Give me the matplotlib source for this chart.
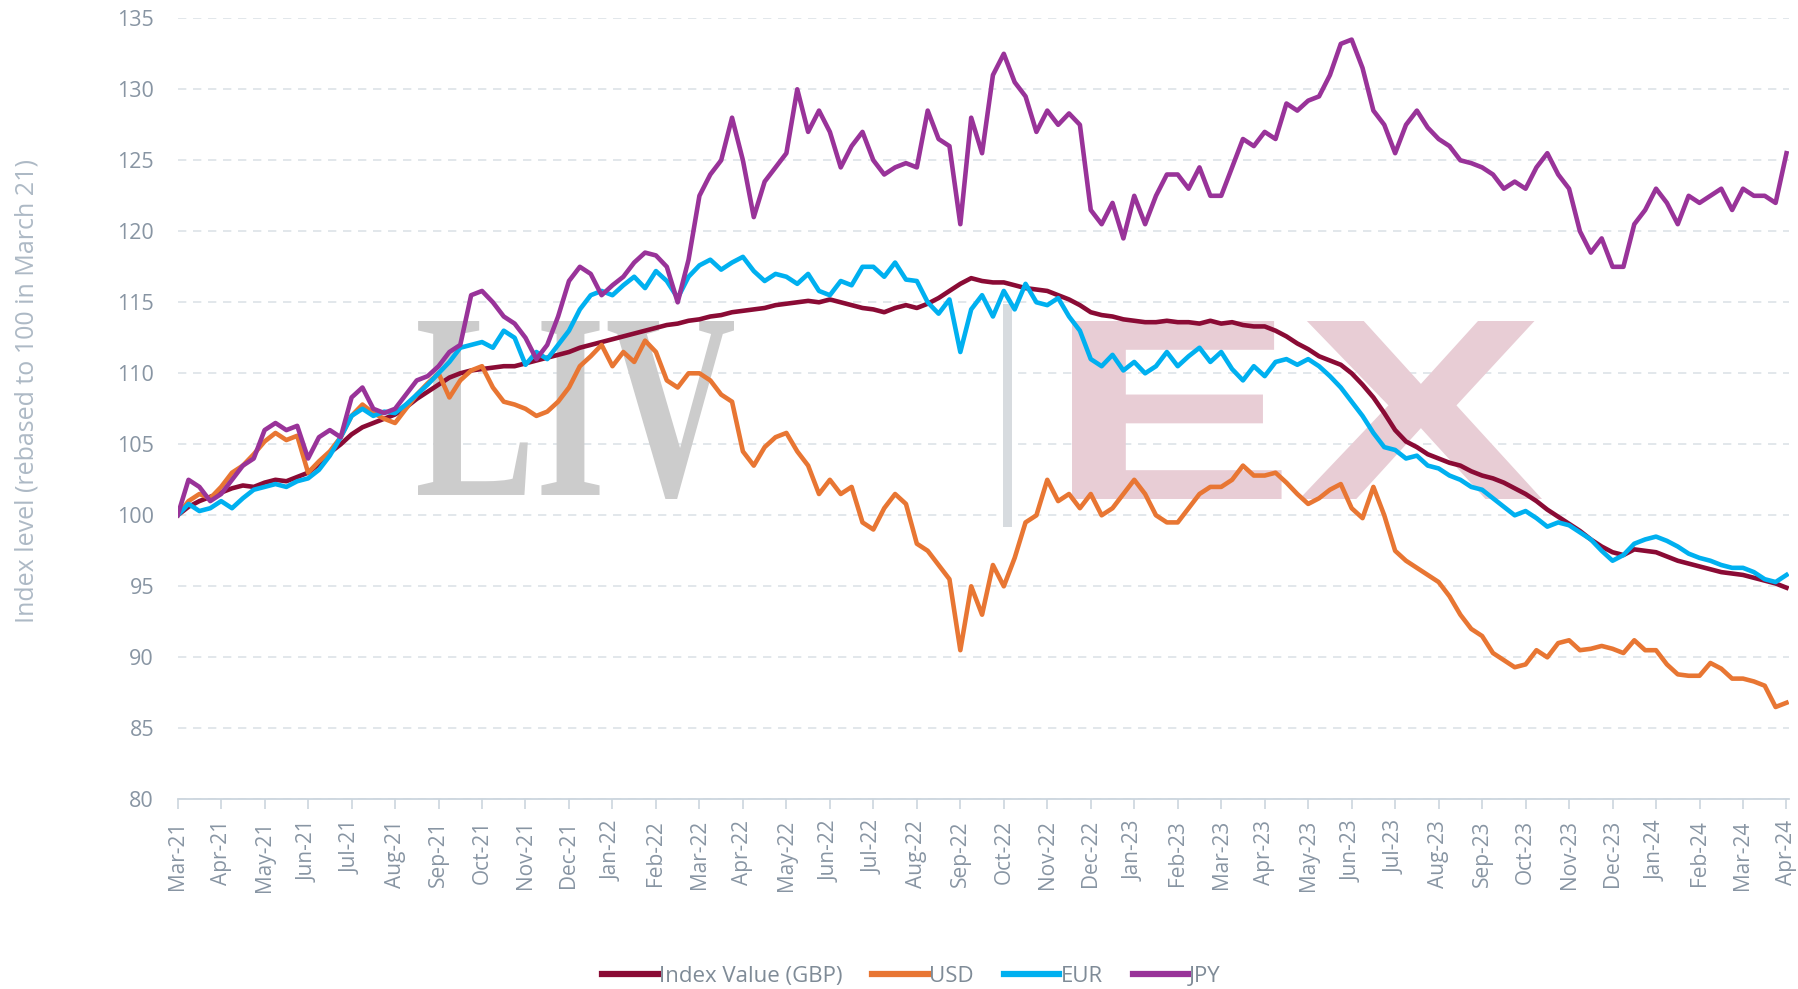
import numpy as np
import pandas as pd
import matplotlib
matplotlib.use("Agg")
import matplotlib.pyplot as plt
from matplotlib.textpath import TextPath
from matplotlib.font_manager import FontProperties
from matplotlib.patches import PathPatch, Rectangle
from matplotlib.transforms import Affine2D


# values, four per month (start, +1/4, +1/2, +3/4), Mar-21 .. Apr-24
gbp = [
    100.0, 100.6, 101.0, 101.3,  101.6, 101.9, 102.1, 102.0,  102.3, 102.5, 102.4, 102.7,
    103.0, 103.6, 104.4, 105.0,  105.7, 106.2, 106.5, 106.8,  107.1, 107.6, 108.2, 108.7,
    109.2, 109.7, 110.0, 110.2,  110.3, 110.4, 110.5, 110.5,  110.7, 110.9, 111.1, 111.3,
    111.5, 111.8, 112.0, 112.2,  112.4, 112.6, 112.8, 113.0,  113.2, 113.4, 113.5, 113.7,
    113.8, 114.0, 114.1, 114.3,  114.4, 114.5, 114.6, 114.8,  114.9, 115.0, 115.1, 115.0,
    115.2, 115.0, 114.8, 114.6,  114.5, 114.3, 114.6, 114.8,  114.6, 114.9, 115.3, 115.8,
    116.3, 116.7, 116.5, 116.4,  116.4, 116.2, 116.0, 115.9,  115.8, 115.5, 115.2, 114.8,
    114.3, 114.1, 114.0, 113.8,  113.7, 113.6, 113.6, 113.7,  113.6, 113.6, 113.5, 113.7,
    113.5, 113.6, 113.4, 113.3,  113.3, 113.0, 112.6, 112.1,  111.7, 111.2, 110.9, 110.6,
    110.0, 109.2, 108.3, 107.2,  106.0, 105.2, 104.8, 104.3,  104.0, 103.7, 103.5, 103.1,
    102.8, 102.6, 102.3, 101.9,  101.5, 101.0, 100.4, 99.9,   99.4, 98.9, 98.3, 97.8,
    97.4, 97.2, 97.6, 97.5,      97.4, 97.1, 96.8, 96.6,      96.4, 96.2, 96.0, 95.9,
    95.8, 95.6, 95.4, 95.2,      94.9,
]
usd = [
    100.0, 101.0, 101.5, 101.2,  102.0, 103.0, 103.5, 104.3,  105.2, 105.8, 105.3, 105.6,
    103.0, 103.8, 104.5, 105.5,  107.0, 107.8, 107.2, 106.8,  106.5, 107.5, 108.5, 109.3,
    110.0, 108.3, 109.5, 110.2,  110.5, 109.0, 108.0, 107.8,  107.5, 107.0, 107.3, 108.0,
    109.0, 110.5, 111.2, 112.0,  110.5, 111.5, 110.8, 112.3,  111.5, 109.5, 109.0, 110.0,
    110.0, 109.5, 108.5, 108.0,  104.5, 103.5, 104.8, 105.5,  105.8, 104.5, 103.5, 101.5,
    102.5, 101.5, 102.0, 99.5,   99.0, 100.5, 101.5, 100.8,   98.0, 97.5, 96.5, 95.5,
    90.5, 95.0, 93.0, 96.5,      95.0, 97.0, 99.5, 100.0,     102.5, 101.0, 101.5, 100.5,
    101.5, 100.0, 100.5, 101.5,  102.5, 101.5, 100.0, 99.5,   99.5, 100.5, 101.5, 102.0,
    102.0, 102.5, 103.5, 102.8,  102.8, 103.0, 102.3, 101.5,  100.8, 101.2, 101.8, 102.2,
    100.5, 99.8, 102.0, 100.0,   97.5, 96.8, 96.3, 95.8,      95.3, 94.3, 93.0, 92.0,
    91.5, 90.3, 89.8, 89.3,      89.5, 90.5, 90.0, 91.0,      91.2, 90.5, 90.6, 90.8,
    90.6, 90.3, 91.2, 90.5,      90.5, 89.5, 88.8, 88.7,      88.7, 89.6, 89.2, 88.5,
    88.5, 88.3, 88.0, 86.5,      86.8,
]
eur = [
    100.0, 100.8, 100.3, 100.5,  101.0, 100.5, 101.2, 101.8,  102.0, 102.2, 102.0, 102.4,
    102.6, 103.2, 104.2, 105.5,  107.0, 107.5, 107.0, 107.3,  107.2, 107.8, 108.5, 109.2,
    110.0, 110.8, 111.8, 112.0,  112.2, 111.8, 113.0, 112.5,  110.6, 111.5, 111.0, 112.0,
    113.0, 114.5, 115.5, 115.8,  115.5, 116.2, 116.8, 116.0,  117.2, 116.5, 115.3, 116.8,
    117.6, 118.0, 117.3, 117.8,  118.2, 117.2, 116.5, 117.0,  116.8, 116.3, 117.0, 115.8,
    115.5, 116.5, 116.2, 117.5,  117.5, 116.8, 117.8, 116.6,  116.5, 115.0, 114.2, 115.2,
    111.5, 114.5, 115.5, 114.0,  115.8, 114.5, 116.3, 115.0,  114.8, 115.3, 114.0, 113.0,
    111.0, 110.5, 111.3, 110.2,  110.8, 110.0, 110.5, 111.5,  110.5, 111.2, 111.8, 110.8,
    111.5, 110.3, 109.5, 110.5,  109.8, 110.8, 111.0, 110.6,  111.0, 110.5, 109.8, 109.0,
    108.0, 107.0, 105.8, 104.8,  104.6, 104.0, 104.2, 103.5,  103.3, 102.8, 102.5, 102.0,
    101.8, 101.2, 100.6, 100.0,  100.3, 99.8, 99.2, 99.5,     99.3, 98.8, 98.3, 97.5,
    96.8, 97.2, 98.0, 98.3,      98.5, 98.2, 97.8, 97.3,      97.0, 96.8, 96.5, 96.3,
    96.3, 96.0, 95.5, 95.3,      95.8,
]
jpy = [
    100.0, 102.5, 102.0, 101.0,  101.5, 102.5, 103.5, 104.0,  106.0, 106.5, 106.0, 106.3,
    104.0, 105.5, 106.0, 105.5,  108.3, 109.0, 107.5, 107.2,  107.5, 108.5, 109.5, 109.8,
    110.5, 111.5, 112.0, 115.5,  115.8, 115.0, 114.0, 113.5,  112.5, 111.0, 112.0, 114.0,
    116.5, 117.5, 117.0, 115.5,  116.2, 116.8, 117.8, 118.5,  118.3, 117.5, 115.0, 118.0,
    122.5, 124.0, 125.0, 128.0,  125.0, 121.0, 123.5, 124.5,  125.5, 130.0, 127.0, 128.5,
    127.0, 124.5, 126.0, 127.0,  125.0, 124.0, 124.5, 124.8,  124.5, 128.5, 126.5, 126.0,
    120.5, 128.0, 125.5, 131.0,  132.5, 130.5, 129.5, 127.0,  128.5, 127.5, 128.3, 127.5,
    121.5, 120.5, 122.0, 119.5,  122.5, 120.5, 122.5, 124.0,  124.0, 123.0, 124.5, 122.5,
    122.5, 124.5, 126.5, 126.0,  127.0, 126.5, 129.0, 128.5,  129.2, 129.5, 131.0, 133.2,
    133.5, 131.5, 128.5, 127.5,  125.5, 127.5, 128.5, 127.3,  126.5, 126.0, 125.0, 124.8,
    124.5, 124.0, 123.0, 123.5,  123.0, 124.5, 125.5, 124.0,  123.0, 120.0, 118.5, 119.5,
    117.5, 117.5, 120.5, 121.5,  123.0, 122.0, 120.5, 122.5,  122.0, 122.5, 123.0, 121.5,
    123.0, 122.5, 122.5, 122.0,  125.5,
]
series_names = ["Index Value (GBP)", "USD", "EUR", "JPY"]
series_colors = ["#8a0b35", "#e87633", "#00b0f0", "#993399"]
month_labels = list(pd.date_range("2021-03-01", "2024-04-01", freq="MS").strftime("%b-%y"))
y_ticks = list(range(80, 136, 5))

TICK_COLOR = "#8895a3"

plt.rcParams["font.family"] = ["Open Sans", "DejaVu Sans"]

fig = plt.figure(figsize=(17.98, 9.89), dpi=100)
ax = fig.add_axes([0.0988, 0.1918, 0.896, 0.7897])

x = np.arange(len(gbp)) / 4.0
for vals, name, col in zip([gbp, usd, eur, jpy], series_names, series_colors):
    ax.plot(x, vals, color=col, lw=3.3, label=name, solid_joinstyle="round", zorder=3)


def box_text(s, box, family, color, weight="bold"):
    # squeeze a text path into a box given in figure fraction (x0, y0, x1, y1)
    tp = TextPath((0, 0), s, size=100, prop=FontProperties(family=family, weight=weight))
    bb = tp.get_extents()
    x0, y0, x1, y1 = box
    tr = (Affine2D().translate(-bb.x0, -bb.y0)
          .scale((x1 - x0) / bb.width, (y1 - y0) / bb.height)
          .translate(x0, y0)) + fig.transFigure
    ax.add_patch(PathPatch(tp, transform=tr, fc=color, ec="none", zorder=1))


W, H = 1798.0, 989.0
box_text("LIV", (418 / W, 1 - 499 / H, 734 / W, 1 - 321 / H), "Liberation Serif", "#cccccc")
box_text("EX", (1072 / W, 1 - 499 / H, 1542 / W, 1 - 321 / H), "Liberation Sans", "#e8cdd5")
ax.add_patch(Rectangle((1003 / W, 1 - 527 / H), 9 / W, 223 / H, transform=fig.transFigure,
                       fc="#d7dbdf", ec="none", zorder=1))

ax.set_xlim(0, 37.05)
ax.set_ylim(80, 135)
ax.set_yticks(y_ticks)
ax.set_xticks(range(len(month_labels)))
ax.set_xticklabels(month_labels, rotation=90)
ax.grid(axis="y", color="#dde3e8", lw=1.2, ls=(0, (5, 4)))
ax.set_axisbelow(True)
for side in ["left", "right", "top"]:
    ax.spines[side].set_visible(False)
ax.spines["bottom"].set_color("#ccd6de")
ax.spines["bottom"].set_linewidth(1.3)
ax.tick_params(axis="y", length=0, pad=17, labelsize=15.5, labelcolor=TICK_COLOR)
ax.tick_params(axis="x", length=7, width=1.2, color="#ccd6de", pad=8, labelsize=15,
               labelcolor=TICK_COLOR)
fig.text(27 / W, 1 - 391 / H, "Index level (rebased to 100 in March 21)", rotation=90,
         ha="center", va="center", fontsize=18, color="#adb9c5")

fig.legend(loc="center", bbox_to_anchor=(0.507, 0.013), ncol=4, frameon=False, fontsize=16,
           handlelength=2.5, handletextpad=0.05, columnspacing=1.35, labelcolor="#7f8b97")
for line in fig.legends[0].get_lines():
    line.set_linewidth(4.5)

fig.savefig("out.png", dpi=100)
